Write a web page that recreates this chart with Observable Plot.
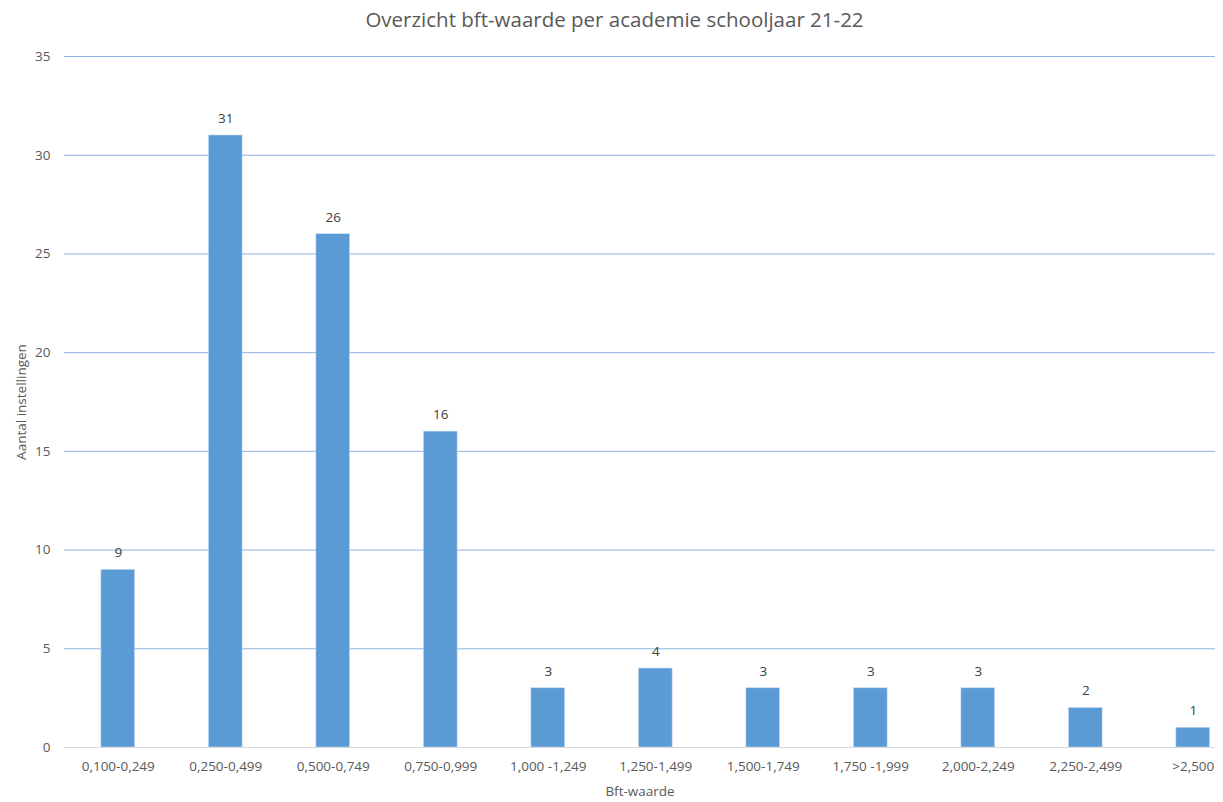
<!DOCTYPE html>
<html>
<head>
<meta charset="utf-8">
<script src="https://cdn.jsdelivr.net/npm/d3@7"></script>
<script src="https://cdn.jsdelivr.net/npm/@observablehq/plot@0.6"></script>
<style>
  html, body { margin: 0; padding: 0; background: #fff; }
  #title { width: 1223px; height: 40px; box-sizing: border-box; padding-left: 6px; padding-top: 5px;
           text-align: center; font-family: "Open Sans", sans-serif; font-size: 20.5px; color: #595959; }
  #chart svg { display: block; }
</style>
</head>
<body>
<div id="title">Overzicht bft-waarde per academie schooljaar 21-22</div>
<div id="chart"></div>
<script>
const categories = ["0,100-0,249", "0,250-0,499", "0,500-0,749", "0,750-0,999", "1,000 -1,249", "1,250-1,499", "1,500-1,749", "1,750 -1,999", "2,000-2,249", "2,250-2,499", ">2,500"];
const counts = [9, 31, 26, 16, 3, 4, 3, 3, 3, 2, 1];
const yTicks = [0, 5, 10, 15, 20, 25, 30, 35];

const data = categories.map((c, i) => ({cat: c, n: counts[i]}));

const chart = Plot.plot({
  width: 1223,
  height: 762,
  marginLeft: 64,
  marginRight: 8,
  marginTop: 16,
  marginBottom: 55,
  style: {fontFamily: "Open Sans, sans-serif", fontSize: "13.5px", color: "#595959", background: "#fff"},
  x: {domain: categories, range: [64, 1246.5], round: false, paddingInner: 0.686, paddingOuter: 0.343, label: null},
  y: {domain: [0, 35], label: null},
  marks: [
    Plot.gridY(yTicks, {stroke: "#8DB4E2", strokeOpacity: 1, strokeWidth: 1}),
    Plot.ruleY([0], {stroke: "#D9D9D9", strokeWidth: 1}),
    Plot.barY(data, {x: "cat", y: "n", fill: "#5B9BD5", stroke: "#C9DDF1", strokeWidth: 0.6}),
    Plot.text(data, {x: "cat", y: "n", text: d => String(d.n), dy: -17, fill: "#404040", fontSize: 13.5}),
    Plot.axisY({ticks: yTicks, tickSize: 0, tickPadding: 14, label: "Aantal instellingen", labelAnchor: "center", labelOffset: 48, labelArrow: "none", fill: "#595959"}),
    Plot.axisX({tickSize: 0, tickPadding: 14, label: "Bft-waarde", labelAnchor: "center", labelOffset: 48, labelArrow: "none", fill: "#595959"})
  ]
});
document.getElementById("chart").appendChild(chart);
</script>
</body>
</html>
